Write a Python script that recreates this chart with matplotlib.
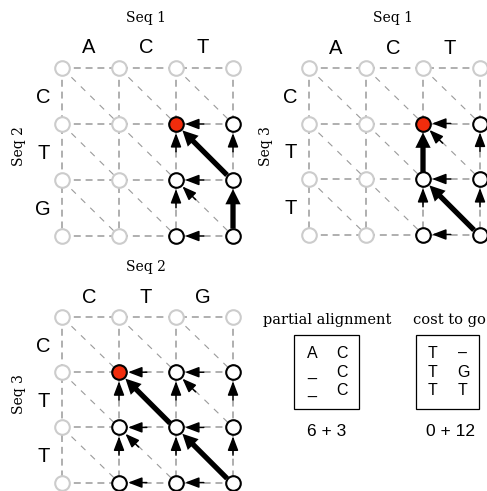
import matplotlib
matplotlib.use("Agg")
import matplotlib.pyplot as plt
from matplotlib.patches import Rectangle
import numpy as np

plt.rcParams['lines.scale_dashes'] = False

# ---------------- data ----------------
seq1 = ['A', 'C', 'T']
seq2 = ['C', 'T', 'G']
seq3 = ['C', 'T', 'T']

# panel titles: (top label, side label), sequences: (top, side)
panel_labels = [('Seq 1', 'Seq 2'), ('Seq 1', 'Seq 3'), ('Seq 2', 'Seq 3')]
panel_seqs = [(seq1, seq2), (seq1, seq3), (seq2, seq3)]

# node states per panel, rows top->bottom, cols left->right
# g = not reached (light grey), b = reached (black), r = current (red)
states_p1 = ['gggg', 'ggrb', 'ggbb', 'ggbb']
states_p2 = ['gggg', 'ggrb', 'ggbb', 'ggbb']
states_p3 = ['gggg', 'grbb', 'gbbb', 'gbbb']

# arrows: (from_col, from_row, to_col, to_row, thick)
arrows_p1 = [(3, 1, 2, 1, 0), (3, 2, 2, 2, 0), (3, 3, 2, 3, 0),
             (3, 2, 3, 1, 0), (2, 2, 2, 1, 0), (2, 3, 2, 2, 0),
             (3, 3, 3, 2, 1), (3, 2, 2, 1, 1), (3, 3, 2, 2, 0)]
arrows_p2 = [(3, 1, 2, 1, 0), (3, 2, 2, 2, 0), (3, 3, 2, 3, 0),
             (3, 2, 3, 1, 0), (2, 2, 2, 1, 1), (2, 3, 2, 2, 0),
             (3, 3, 3, 2, 0), (3, 2, 2, 1, 0), (3, 3, 2, 2, 1)]
arrows_p3 = [(2, 1, 1, 1, 0), (3, 1, 2, 1, 0), (2, 2, 1, 2, 0),
             (3, 2, 2, 2, 0), (2, 3, 1, 3, 0), (3, 3, 2, 3, 0),
             (1, 2, 1, 1, 0), (2, 2, 2, 1, 0), (3, 2, 3, 1, 0),
             (1, 3, 1, 2, 0), (2, 3, 2, 2, 0), (3, 3, 3, 2, 0),
             (2, 2, 1, 1, 1), (3, 2, 2, 1, 0), (2, 3, 1, 2, 0),
             (3, 3, 2, 2, 1)]
panel_states = [states_p1, states_p2, states_p3]
panel_arrows = [arrows_p1, arrows_p2, arrows_p3]

partial_alignment = [['A', 'C'], ['_', 'C'], ['_', 'C']]
cost_to_go = [['T', '\u2013'], ['T', 'G'], ['T', 'T']]
partial_score = '6 + 3'
cost_score = '0 + 12'

# ---------------- layout ----------------
W, H = 487, 491
fig = plt.figure(figsize=(W / 100, H / 100), dpi=100)

panel_geom = [(62, 68, 57, 56), (309, 68, 57, 55.5), (62, 317, 57, 55.2)]

SANS = 'Liberation Sans'
SERIF = 'DejaVu Serif'
GRID_C = '#9a9a9a'
LIGHT = '#cccccc'
RED = '#f02c0c'

for (x0, y0, dx, dy), (tl, sl), (tseq, sseq), st, arr in zip(
        panel_geom, panel_labels, panel_seqs, panel_states, panel_arrows):
    ax = fig.add_axes([x0 / W, 1 - (y0 + 3 * dy) / H, 3 * dx / W, 3 * dy / H])
    ax.set_xlim(0, 3)
    ax.set_ylim(3, 0)
    ax.axis('off')
    n = 4
    # grid lines
    for k in range(n):
        ax.plot([0, 3], [k, k], color=GRID_C, lw=1.1, dashes=(5, 3.5),
                zorder=1, clip_on=False)
        ax.plot([k, k], [0, 3], color=GRID_C, lw=1.1, dashes=(5, 3.5),
                zorder=1, clip_on=False)
    for i in range(3):
        for j in range(3):
            ax.plot([i, i + 1], [j, j + 1], color=GRID_C, lw=0.8,
                    dashes=(4.5, 5), zorder=1, clip_on=False)
    # arrows
    for (fc, fr, tc, tr, thick) in arr:
        vx, vy = fc - tc, -(fr - tr)
        nrm = np.hypot(vx, vy)
        if thick:
            L = 41 * nrm
            ax.annotate('', xy=(tc, tr), xytext=(vx / nrm * L, vy / nrm * L),
                        textcoords='offset points',
                        arrowprops=dict(arrowstyle='simple,head_length=0.55,head_width=0.55,tail_width=0.19',
                                        fc='black', ec='none', lw=0, mutation_scale=20,
                                        shrinkA=6, shrinkB=6.5),
                        zorder=2, annotation_clip=False)
        else:
            L = 20
            ax.annotate('', xy=(tc, tr), xytext=(vx / nrm * L, vy / nrm * L),
                        textcoords='offset points',
                        arrowprops=dict(arrowstyle='-|>,head_length=0.42,head_width=0.16',
                                        color='black', lw=1.1, mutation_scale=20,
                                        shrinkA=0, shrinkB=6.5),
                        zorder=2, annotation_clip=False)
    # nodes
    for r in range(n):
        for c in range(n):
            s = st[r][c]
            if s == 'g':
                ec, fc_ = LIGHT, 'white'
            elif s == 'b':
                ec, fc_ = 'black', 'white'
            else:
                ec, fc_ = 'black', RED
            ax.plot(c, r, 'o', ms=10.5, mfc=fc_, mec=ec, mew=1.5,
                    zorder=3, clip_on=False)
    # labels
    ax.text(1.47, -0.9, tl, family=SERIF, fontsize=10, ha='center', va='center')
    for i, ch in enumerate(tseq):
        ax.text(i + 0.47, -0.36, ch, family=SANS, fontsize=14.5, ha='center', va='center')
    for j, ch in enumerate(sseq):
        ax.text(-0.33, j + 0.53, ch, family=SANS, fontsize=14.5, ha='center', va='center')
    ax.text(-0.76, 1.4, sl, family=SERIF, fontsize=10, ha='center', va='center',
            rotation=90)

# bottom-right alignment boxes
ov = fig.add_axes([0, 0, 1, 1])
ov.set_xlim(0, W)
ov.set_ylim(H, 0)
ov.axis('off')
ov.patch.set_visible(False)

boxes = [(294, 359, 'partial alignment', partial_alignment, (312, 342), partial_score, 327, 327),
         (416, 479, 'cost to go', cost_to_go, (432, 463), cost_score, 450, 449)]
row_base = [358, 377, 395]
for (bx0, bx1, title, content, cols, score, sx, tx) in boxes:
    ov.add_patch(Rectangle((bx0, 335), bx1 - bx0, 74, fill=False, ec='black', lw=0.9))
    ov.text(tx, 320, title, family=SERIF, fontsize=10.5, ha='center', va='center')
    for r, row in enumerate(content):
        for c, ch in enumerate(row):
            ov.text(cols[c], row_base[r], ch, family=SANS, fontsize=11.5,
                    ha='center', va='baseline')
    ov.text(sx, 431, score, family=SANS, fontsize=12.5, ha='center', va='center')

fig.savefig('out.png', dpi=100)
